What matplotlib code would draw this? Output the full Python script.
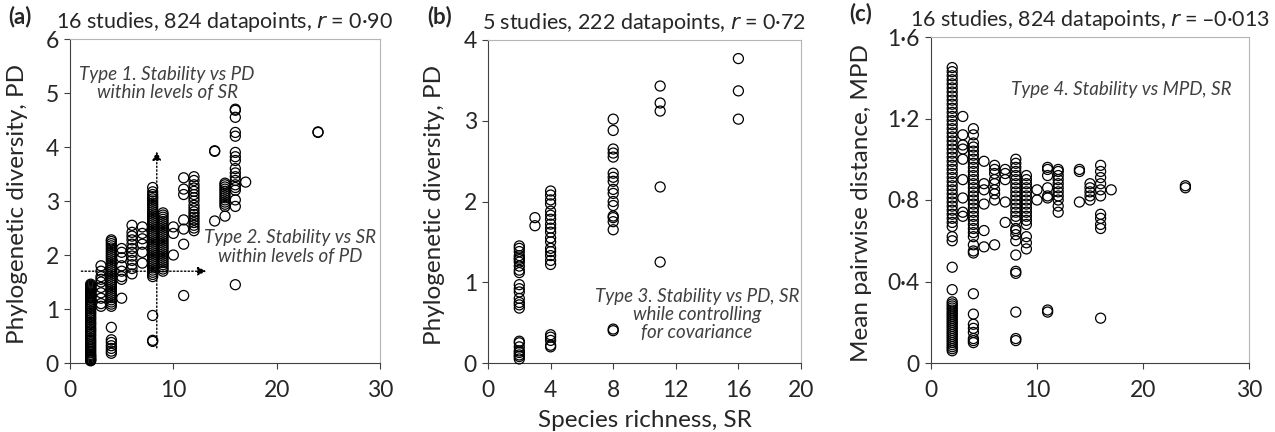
import numpy as np
import matplotlib
matplotlib.use('Agg')
import matplotlib.pyplot as plt

plt.rcParams['font.family'] = ['Lato', 'DejaVu Sans']

# ---------------- data ----------------
# panel (a): species richness vs phylogenetic diversity (PD)
a_sr = {
    2: [0.04, 0.05, 0.06, 0.08, 0.1, 0.12, 0.14, 0.16, 0.19, 0.22, 0.25, 0.28, 0.31,
        0.34, 0.37, 0.4, 0.43, 0.46, 0.5, 0.53, 0.57, 0.6, 0.63, 0.66, 0.7, 0.73, 0.76,
        0.8, 0.83, 0.86, 0.9, 0.93, 0.96, 1.0, 1.03, 1.06, 1.1, 1.13, 1.16, 1.2, 1.22,
        1.24, 1.26, 1.28, 1.3, 1.32, 1.34, 1.36, 1.38, 1.4, 1.42, 1.44, 1.46],
    3: [1.05, 1.1, 1.2, 1.3, 1.4, 1.5, 1.55, 1.6, 1.7, 1.8],
    4: [0.18, 0.22, 0.27, 0.32, 0.38, 0.43, 0.66, 1.05, 1.09, 1.13, 1.17, 1.21, 1.25,
        1.29, 1.33, 1.37, 1.41, 1.45, 1.49, 1.53, 1.57, 1.61, 1.65, 1.69, 1.73, 1.77,
        1.81, 1.85, 1.89, 1.93, 1.97, 2.01, 2.05, 2.09, 2.13, 2.17, 2.21, 2.25, 2.28],
    5: [1.2, 1.55, 1.6, 1.7, 1.8, 1.95, 2.05, 2.12],
    6: [1.65, 1.75, 1.82, 1.9, 1.98, 2.05, 2.12, 2.2, 2.28, 2.35, 2.42, 2.55],
    7: [1.85, 2.05, 2.2, 2.3, 2.4, 2.52],
    8: [0.4, 0.42, 0.88, 1.6, 1.64, 1.68, 1.72, 1.76, 1.8, 1.84, 1.88, 1.92, 1.96, 2.0,
        2.04, 2.08, 2.12, 2.16, 2.2, 2.24, 2.28, 2.32, 2.36, 2.4, 2.44, 2.48, 2.52,
        2.56, 2.6, 2.64, 2.68, 2.72, 2.76, 2.8, 2.84, 2.88, 2.92, 2.96, 3.0, 3.04,
        3.08, 3.12, 3.17, 3.25],
    9: [1.7, 1.74, 1.78, 1.82, 1.86, 1.9, 1.94, 1.98, 2.02, 2.06, 2.1, 2.14, 2.18,
        2.22, 2.26, 2.3, 2.34, 2.38, 2.42, 2.46, 2.5, 2.54, 2.58, 2.62, 2.66, 2.7,
        2.74, 2.78],
    10: [2.0, 2.4, 2.52],
    11: [1.25, 2.2, 2.48, 2.65, 3.12, 3.22, 3.43],
    12: [2.45, 2.5, 2.55, 2.6, 2.65, 2.7, 2.75, 2.8, 2.86, 2.92, 3.0, 3.06, 3.12, 3.18,
         3.24, 3.3, 3.38, 3.45],
    14: [2.63, 3.92, 3.93],
    15: [2.72, 2.9, 2.94, 2.98, 3.02, 3.06, 3.1, 3.14, 3.18, 3.22, 3.26, 3.3, 3.33],
    16: [1.45, 2.9, 3.02, 3.2, 3.25, 3.3, 3.38, 3.45, 3.52, 3.6, 3.75, 3.82, 3.9, 4.2,
         4.27, 4.55, 4.68, 4.7],
    17: [3.35],
    24: [4.27, 4.28],
}

# panel (b): subset of five studies
b_sr = {
    2: [0.05, 0.08, 0.1, 0.13, 0.15, 0.2, 0.25, 0.27, 0.68, 0.72, 0.75, 0.8, 0.88, 0.92,
        0.97, 1.12, 1.15, 1.2, 1.25, 1.28, 1.3, 1.33, 1.38, 1.42, 1.45],
    3: [1.7, 1.8],
    4: [0.2, 0.22, 0.28, 0.32, 0.35, 1.22, 1.27, 1.33, 1.38, 1.42, 1.5, 1.55, 1.62,
        1.67, 1.72, 1.78, 1.83, 1.88, 1.97, 2.02, 2.08, 2.13],
    8: [0.4, 0.42, 1.65, 1.75, 1.8, 1.82, 1.95, 2.0, 2.1, 2.15, 2.25, 2.3, 2.35, 2.55,
        2.6, 2.65, 2.88, 3.02],
    11: [1.25, 2.18, 3.12, 3.22, 3.43],
    16: [3.02, 3.37, 3.77],
}

# panel (c): species richness vs mean pairwise distance (MPD)
c_sr = {
    2: [0.06, 0.07, 0.08, 0.09, 0.1, 0.11, 0.12, 0.13, 0.14, 0.15, 0.16, 0.17, 0.18,
        0.19, 0.2, 0.21, 0.22, 0.23, 0.24, 0.25, 0.26, 0.27, 0.28, 0.29, 0.3, 0.36,
        0.47, 0.6, 0.62, 0.67, 0.69, 0.71, 0.73, 0.75, 0.77, 0.79, 0.81, 0.83, 0.85,
        0.87, 0.89, 0.91, 0.93, 0.95, 0.97, 0.99, 1.01, 1.03, 1.05, 1.07, 1.09, 1.11,
        1.13, 1.15, 1.17, 1.19, 1.21, 1.23, 1.25, 1.27, 1.29, 1.31, 1.33, 1.35, 1.37,
        1.39, 1.41, 1.43, 1.45],
    3: [0.72, 0.74, 0.81, 0.9, 1.0, 1.05, 1.07, 1.12, 1.21],
    4: [0.1, 0.11, 0.12, 0.15, 0.17, 0.19, 0.24, 0.34, 0.54, 0.55, 0.58, 0.62, 0.64,
        0.66, 0.68, 0.7, 0.72, 0.74, 0.76, 0.78, 0.8, 0.82, 0.84, 0.86, 0.88, 0.9,
        0.92, 0.94, 0.96, 0.98, 1.0, 1.02, 1.04, 1.06, 1.08, 1.12, 1.15],
    5: [0.57, 0.65, 0.78, 0.85, 0.88, 0.99],
    6: [0.58, 0.8, 0.83, 0.85, 0.88, 0.9, 0.93, 0.95, 0.97],
    7: [0.69, 0.79, 0.9, 0.93, 0.95],
    8: [0.11, 0.12, 0.25, 0.44, 0.45, 0.53, 0.6, 0.63, 0.65, 0.66, 0.7, 0.72, 0.74,
        0.76, 0.78, 0.8, 0.82, 0.84, 0.86, 0.88, 0.9, 0.92, 0.94, 0.96, 0.98, 1.0],
    9: [0.56, 0.59, 0.62, 0.68, 0.7, 0.72, 0.74, 0.76, 0.78, 0.8, 0.82, 0.84, 0.86,
        0.88, 0.9, 0.92],
    10: [0.8, 0.85],
    11: [0.25, 0.26, 0.81, 0.82, 0.86, 0.92, 0.95, 0.96],
    12: [0.74, 0.77, 0.8, 0.82, 0.84, 0.86, 0.88, 0.9, 0.92, 0.94, 0.95],
    14: [0.79, 0.94, 0.95],
    15: [0.8, 0.82, 0.84, 0.86, 0.88],
    16: [0.22, 0.66, 0.68, 0.71, 0.73, 0.82, 0.85, 0.88, 0.91, 0.94, 0.97],
    17: [0.85],
    24: [0.86, 0.87],
}

titles = ['16 studies, 824 datapoints, $\\it{r}$ = 0·90',
          '5 studies, 222 datapoints, $\\it{r}$ = 0·72',
          '16 studies, 824 datapoints, $\\it{r}$ = –0·013']
panel_tags = ['(a)', '(b)', '(c)']
ylabels = ['Phylogenetic diversity, PD', 'Phylogenetic diversity, PD',
           'Mean pairwise distance, MPD']


def flatten(d):
    xs, ys = [], []
    for k, v in d.items():
        xs += [k] * len(v)
        ys += v
    return np.array(xs, float), np.array(ys, float)


fig = plt.figure(figsize=(12.75, 4.32), dpi=100)
W, H = 1275, 432
boxes = [(70, 39, 380, 363), (488, 40, 801, 363), (931, 37, 1249, 363)]
axes = []
for (l, t, r, b) in boxes:
    axes.append(fig.add_axes([l / W, 1 - b / H, (r - l) / W, (b - t) / H]))

txtcol = '#262626'
for ax, d in zip(axes, [a_sr, b_sr, c_sr]):
    x, y = flatten(d)
    ax.scatter(x, y, s=52, facecolors='none', edgecolors='black', linewidths=0.9,
               zorder=3, clip_on=False)
    for side in ['top', 'right']:
        ax.spines[side].set_color('#b5b5b5')
    for side in ['left', 'bottom']:
        ax.spines[side].set_color('#404040')
    ax.tick_params(direction='out', length=4, width=0.8, color='#404040',
                   labelsize=16.5, labelcolor=txtcol)
    ax.tick_params(axis='x', pad=8)
    ax.tick_params(axis='y', pad=4)

# axis ranges and ticks
axes[0].set_xlim(0, 30)
axes[0].set_ylim(0, 6)
axes[0].set_xticks([0, 10, 20, 30])
axes[0].set_yticks([0, 1, 2, 3, 4, 5, 6])

axes[1].set_xlim(0, 20)
axes[1].set_ylim(0, 4)
axes[1].set_xticks([0, 4, 8, 12, 16, 20])
axes[1].set_yticks([0, 1, 2, 3, 4])

axes[2].set_xlim(0, 30)
axes[2].set_ylim(0, 1.6)
axes[2].set_xticks([0, 10, 20, 30])
axes[2].set_yticks([0, 0.4, 0.8, 1.2, 1.6])
axes[2].set_yticklabels(['0', '0·4', '0·8', '1·2', '1·6'])

# panel tags placed in figure pixels (left edge, centre y)
tag_pos = [(8, 17), (427, 17), (849, 14)]
ylab_x = [-0.135, -0.137, -0.186]
for ax, ttl, tag, yl, tp, lx in zip(axes, titles, panel_tags, ylabels, tag_pos, ylab_x):
    ax.set_title(ttl, fontsize=15.5, color=txtcol, pad=8)
    ax.set_ylabel(yl, fontsize=17.5, color=txtcol)
    ax.yaxis.set_label_coords(lx, 0.49)
    fig.text(tp[0] / W, 1 - tp[1] / H, tag, fontsize=16, fontweight='bold',
             color=txtcol, ha='left', va='center')

axes[1].set_xlabel('Species richness, SR', fontsize=17.5, color=txtcol)
axes[1].xaxis.set_label_coords(0.5, -0.145)

# annotations
anno = dict(fontsize=13.5, style='italic', color='#404040', ha='center', va='center',
            linespacing=1.1)
axes[0].text(9.4, 5.18, 'Type 1. Stability vs PD\nwithin levels of SR', **anno)
axes[0].text(21.3, 2.15, 'Type 2. Stability vs SR\nwithin levels of PD', **anno)
axes[1].text(13.35, 0.6, 'Type 3. Stability vs PD, SR\nwhile controlling\nfor covariance',
             **anno)
axes[2].text(18.0, 1.34, 'Type 4. Stability vs MPD, SR', **anno)

arrow = dict(arrowstyle='-|>', linestyle=':', color='black', lw=1.0,
             mutation_scale=13, shrinkA=0, shrinkB=0)
axes[0].annotate('', xy=(8.4, 3.92), xytext=(8.4, 0.28), arrowprops=arrow, zorder=4)
axes[0].annotate('', xy=(13.2, 1.7), xytext=(1.1, 1.7), arrowprops=arrow, zorder=4)

fig.savefig('out.png', dpi=100)
